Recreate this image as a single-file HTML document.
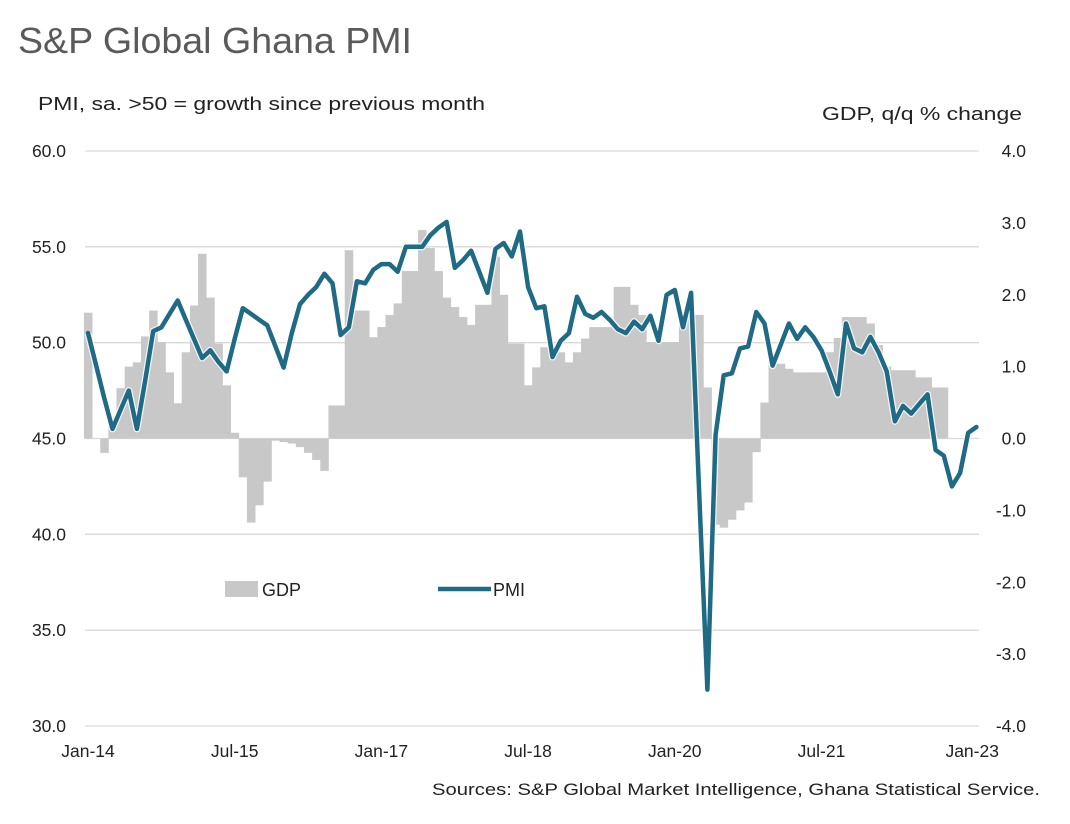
<!DOCTYPE html>
<html><head><meta charset="utf-8"><style>
body{margin:0;background:#fff;}
svg{display:block;font-family:"Liberation Sans",Arial,sans-serif;}
</style></head><body>
<svg id="chart" width="1070" height="824" viewBox="0 0 1070 824">
<text x="18" y="53" font-size="36" fill="#5a5a5a" textLength="394" lengthAdjust="spacingAndGlyphs">S&amp;P Global Ghana PMI</text>
<text x="38" y="110" font-size="18" fill="#222" textLength="447" lengthAdjust="spacingAndGlyphs">PMI, sa. &gt;50 = growth  since previous  month</text>
<text x="822" y="120" font-size="18" fill="#222" textLength="200" lengthAdjust="spacingAndGlyphs">GDP, q/q % change</text>
<g id="grid"></g><g id="bars"></g><g id="line"></g><g id="ticks"></g>
<g>
<rect x="225" y="581" width="33" height="16" fill="#c8c8c8"/>
<text x="262" y="596" font-size="18" fill="#222">GDP</text>
<line x1="438" y1="589" x2="491" y2="589" stroke="#1f6a85" stroke-width="4.5"/>
<text x="493" y="596" font-size="18" fill="#222">PMI</text>
</g>
<text x="1040" y="795" font-size="16.5" fill="#222" text-anchor="end" textLength="608" lengthAdjust="spacingAndGlyphs">Sources: S&amp;P Global Market Intelligence, Ghana Statistical Service.</text>
</svg>
<script>
const pmi=[50.5,48.8,47.1,45.5,46.5,47.5,45.5,48.0,50.6,50.8,51.5,52.2,51.2,50.2,49.2,49.6,49.0,48.5,50.2,51.8,51.5,51.2,50.9,49.8,48.7,50.5,52.0,52.5,52.9,53.6,53.1,50.4,50.8,53.2,53.1,53.8,54.1,54.1,53.7,55.0,55.0,55.0,55.6,56.0,56.3,53.9,54.3,54.8,53.7,52.6,54.9,55.2,54.5,55.8,52.9,51.8,51.9,49.25,50.1,50.5,52.4,51.5,51.3,51.6,51.2,50.7,50.5,51.1,50.7,51.4,50.1,52.5,52.75,50.8,52.6,42.0,31.9,45.2,48.3,48.4,49.7,49.8,51.6,51.0,48.8,49.9,51.0,50.2,50.8,50.3,49.6,48.5,47.3,51.0,49.7,49.5,50.3,49.5,48.5,45.9,46.7,46.3,46.8,47.3,44.4,44.1,42.5,43.2,45.3,45.6];
const gdp=[1.75,0.0,-0.2,0.3,0.7,1.0,1.06,1.42,1.78,1.34,0.92,0.49,1.2,1.85,2.57,1.96,1.32,0.74,0.08,-0.54,-1.17,-0.93,-0.6,-0.03,-0.05,-0.07,-0.12,-0.2,-0.3,-0.45,0.46,0.46,2.62,1.78,1.78,1.41,1.55,1.72,1.88,2.33,2.33,2.9,2.65,2.33,1.96,1.83,1.69,1.58,1.86,1.86,2.53,2.0,1.32,1.32,0.74,0.99,1.27,1.27,1.2,1.06,1.2,1.39,1.55,1.55,1.55,2.11,2.11,1.86,1.72,1.34,1.34,1.34,1.34,1.72,1.72,1.72,0.71,-1.2,-1.24,-1.13,-1.0,-0.89,-0.19,0.5,1.18,1.04,0.97,0.92,0.92,0.92,0.92,1.2,1.4,1.69,1.69,1.69,1.6,1.3,1.0,0.95,0.95,0.95,0.85,0.85,0.71,0.71];
const leftTicks=[60,55,50,45,40,35,30];
const rightTicks=[4,3,2,1,0,-1,-2,-3,-4];
const xLabels=["Jan-14","Jul-15","Jan-17","Jul-18","Jan-20","Jul-21","Jan-23"];
const xLabelIdx=[0,18,36,54,72,90,108];

const NS="http://www.w3.org/2000/svg";
const X0=88,STEP=8.15,TOP=151,BOT=726,GL=85,GR=979;
const x=i=>X0+STEP*i;
const yL=v=>TOP+(60-v)/30*(BOT-TOP);
const yR=v=>TOP+(4-v)/8*(BOT-TOP);
function mk(tag,attrs,parent){const e=document.createElementNS(NS,tag);for(const k in attrs)e.setAttribute(k,attrs[k]);parent.appendChild(e);return e;}
const grid=document.getElementById('grid'),ticks=document.getElementById('ticks');
leftTicks.forEach(v=>{
  const l=mk('line',{x1:GL,x2:GR,y1:yL(v),y2:yL(v),stroke:'#d9d9d9','stroke-width':1.3},grid);
  
  
  const t=mk('text',{x:66,y:yL(v)+6,'font-size':17.5,fill:'#222','text-anchor':'end'},ticks);
  t.textContent=v.toFixed(1);
  
  
});
rightTicks.forEach(v=>{
  const t=mk('text',{x:1026,y:yR(v)+6,'font-size':17.5,fill:'#222','text-anchor':'end'},ticks);
  t.textContent=v.toFixed(1);
  
  
});
xLabels.forEach((s,k)=>{
  const t=mk('text',{x:x(xLabelIdx[k])+(k===6?4:0),y:757,'font-size':17.5,fill:'#222','text-anchor':'middle'},ticks);
  t.textContent=s;
  
  
});
const bars=document.getElementById('bars');
gdp.forEach((v,i)=>{
  const y0=yR(0),y1=yR(v);
  const r=mk('rect',{x:x(i)-STEP/2,width:STEP+0.4,y:Math.min(y0,y1),height:Math.abs(y1-y0),fill:'#c8c8c8'},bars);
  
  
});
const pts=pmi.map((v,i)=>x(i).toFixed(1)+','+yL(v).toFixed(1)).join(' ');
const line=document.getElementById('line');
mk('polyline',{points:pts,fill:'none',stroke:'#fff','stroke-width':7,'stroke-linejoin':'round',opacity:0.8},line);
const pl=mk('polyline',{points:pts,fill:'none',stroke:'#1f6a85','stroke-width':4.5,'stroke-linejoin':'round','stroke-linecap':'round'},line);


</script>
</body></html>
